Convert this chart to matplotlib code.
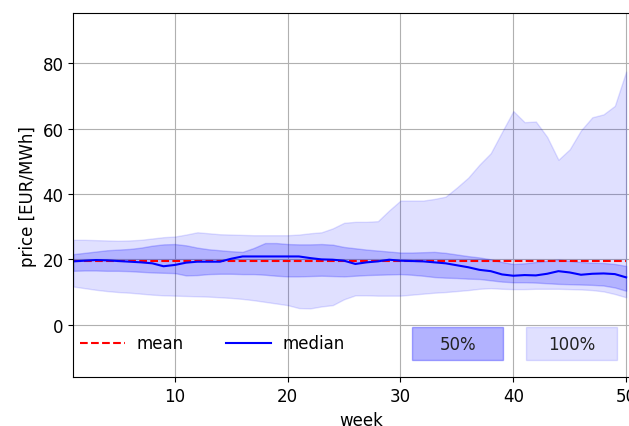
import matplotlib
matplotlib.use("Agg")
import matplotlib.pyplot as plt
from matplotlib.patches import Rectangle

# weekly price statistics
weeks = list(range(1, 51))
mean_price = 19.4
median = [19.4, 19.6, 19.8, 19.7, 19.5, 19.3, 19.1, 18.8, 17.9, 18.3,
          19.0, 19.3, 19.3, 19.3, 20.2, 20.9, 20.9, 20.9, 20.9, 20.9,
          20.9, 20.4, 20.0, 19.9, 19.6, 18.6, 19.1, 19.4, 19.9, 19.6,
          19.5, 19.4, 19.1, 18.8, 18.2, 17.6, 16.8, 16.4, 15.4, 15.0,
          15.2, 15.1, 15.6, 16.4, 16.0, 15.3, 15.6, 15.7, 15.5, 14.5]
q75 = [21.6, 22.0, 22.4, 22.8, 23.0, 23.2, 23.6, 24.2, 24.6, 24.7,
       24.3, 23.6, 23.1, 22.8, 22.5, 22.3, 23.5, 25.0, 25.0, 24.7,
       24.6, 24.6, 24.7, 24.5, 23.8, 23.4, 23.0, 22.7, 22.4, 22.1,
       22.1, 22.2, 22.3, 22.0, 21.5, 21.0, 20.6, 20.0, 19.2, 18.6,
       18.8, 19.2, 19.6, 19.9, 19.6, 19.2, 19.0, 18.9, 18.6, 18.0]
q25 = [16.5, 16.6, 16.6, 16.5, 16.5, 16.4, 16.2, 16.0, 15.9, 15.8,
       15.1, 15.2, 15.5, 15.6, 15.6, 15.5, 15.5, 15.3, 15.0, 14.8,
       14.8, 14.9, 15.0, 14.9, 14.8, 15.0, 15.2, 15.3, 15.4, 15.5,
       15.3, 15.0, 14.6, 14.4, 14.3, 14.1, 14.0, 13.6, 13.2, 13.0,
       13.0, 12.9, 12.7, 12.5, 12.4, 12.3, 12.2, 12.0, 11.4, 10.4]
pmax = [26.0, 26.0, 25.9, 25.8, 25.7, 25.8, 26.0, 26.4, 26.8, 27.0,
        27.6, 28.3, 28.0, 27.7, 27.6, 27.5, 27.4, 27.4, 27.4, 27.4,
        27.6, 28.0, 28.3, 29.5, 31.2, 31.5, 31.5, 31.7, 35.0, 38.0,
        38.0, 38.0, 38.5, 39.2, 42.0, 45.0, 49.0, 52.5, 59.0, 65.4,
        62.0, 62.2, 57.5, 50.5, 53.7, 59.5, 63.5, 64.4, 67.0, 77.5]
pmin = [11.7, 11.2, 10.7, 10.3, 10.0, 9.8, 9.5, 9.2, 9.0, 8.9,
        8.8, 8.7, 8.6, 8.4, 8.2, 7.9, 7.5, 7.0, 6.5, 6.0,
        5.1, 5.0, 5.6, 6.0, 7.8, 9.0, 9.0, 8.9, 8.9, 8.9,
        9.2, 9.5, 9.8, 10.0, 10.3, 10.6, 11.0, 11.2, 11.0, 10.9,
        10.9, 11.0, 11.0, 11.0, 10.9, 10.8, 10.6, 10.2, 9.4, 8.4]

plt.rcParams['font.size'] = 12

fig = plt.figure(figsize=(6.29, 4.27), dpi=100)
ax = fig.add_axes([0.1165, 0.114, 0.9148, 0.853])

ax.fill_between(weeks, pmin, pmax, color='blue', alpha=0.12)
ax.fill_between(weeks, q25, q75, color='blue', alpha=0.2)
ax.plot(weeks, [mean_price] * len(weeks), 'r--', lw=1.5, label='mean')
ax.plot(weeks, median, 'b-', lw=1.5, label='median')

ax.set_xlim(1, 52)
ax.set_ylim(-16.1, 95.4)
ax.set_xticks([10, 20, 30, 40, 50])
ax.set_yticks([0, 20, 40, 60, 80])
ax.grid(True)
ax.set_axisbelow(True)
ax.set_xlabel('week')
ax.set_ylabel('price [EUR/MWh]')

ax.legend(loc='center left', bbox_to_anchor=(0.012, 0.093), ncol=2,
          frameon=False, borderpad=0, borderaxespad=0,
          handlelength=2.7, handletextpad=0.7, columnspacing=2.5)

# boxes for the percentile bands
for x0, a, txt in [(0.589, 0.3, '50%'), (0.787, 0.12, '100%')]:
    ax.add_patch(Rectangle((x0, 0.047), 0.158, 0.091, transform=ax.transAxes,
                           facecolor='blue', edgecolor='blue', alpha=a, lw=1))
    ax.text(x0 + 0.079, 0.0925, txt, transform=ax.transAxes,
            ha='center', va='center', color='#222222')

fig.savefig('out.png', dpi=100)
